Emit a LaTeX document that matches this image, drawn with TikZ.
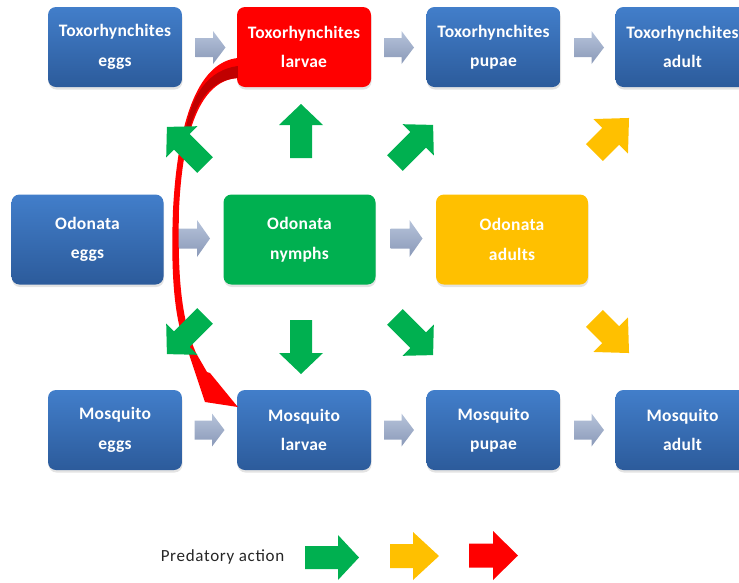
\documentclass[tikz,border=0pt]{standalone}
\usepackage{fontspec}
\setmainfont{Carlito}
\newfontfamily\boxfont[LetterSpace=1.5]{Carlito}
\newfontfamily\legfont[LetterSpace=4]{Carlito}
\usetikzlibrary{shadows,calc}
\definecolor{bluetop}{HTML}{427ECA}
\definecolor{bluebot}{HTML}{2C5B9B}
\definecolor{pgreen}{HTML}{00B050}
\definecolor{pyellow}{HTML}{FFC000}
\definecolor{pred}{HTML}{FF0000}
\definecolor{greytop}{HTML}{B6C3DA}
\definecolor{greybot}{HTML}{8A99B8}
\definecolor{darkred}{HTML}{C00000}
% block arrow: x, y, angle, length, shaft half-width, head half-width, head length, style
\newcommand{\barrow}[8]{\path[#8, shift={(#1,#2)}, rotate=#3] (-#4/2,-#5) -- (#4/2-#7,-#5) -- (#4/2-#7,-#6) -- (#4/2,0) -- (#4/2-#7,#6) -- (#4/2-#7,#5) -- (-#4/2,#5) -- cycle;}
\tikzset{
  stage/.style={rounded corners=8pt, minimum height=80pt, text=white, align=center,
    font=\boxfont\fontsize{17.5}{29.5}\selectfont\bfseries,
    drop shadow={shadow xshift=0.5pt, shadow yshift=-2.5pt, opacity=0.22}},
  bluebox/.style={stage, minimum width=134pt, top color=bluetop, bottom color=bluebot},
  odobox/.style={stage, minimum width=152pt, minimum height=90pt},
  greyarrow/.style={top color=greytop, bottom color=greybot},
  greenarrow/.style={fill=pgreen},
  yellowarrow/.style={fill=pyellow},
  redarrow/.style={fill=pred},
}
\begin{document}
\begin{tikzpicture}[x=1pt,y=-1pt]
\useasboundingbox (0,0) rectangle (739,582);
% row 1: Toxorhynchites
\node[bluebox] (te) at (115,47) {Toxorhynchites\\eggs};
\node[stage, minimum width=134pt, fill=pred] (tl) at (304,47) {Toxorhynchites\\larvae};
\node[bluebox] (tp) at (493.5,47) {Toxorhynchites\\pupae};
\node[bluebox] (ta) at (682.5,47) {Toxorhynchites\\adult};
% row 2: Odonata
\node[odobox, top color=bluetop, bottom color=bluebot] (oe) at (87.5,239.5) {Odonata\\eggs};
\node[odobox, fill=pgreen] (on) at (299.5,239.5) {Odonata\\nymphs};
\node[odobox, fill=pyellow] (oa) at (512,239.5) {Odonata\\adults};
% row 3: Mosquito
\node[bluebox] (me) at (115,430) {Mosquito\\eggs};
\node[bluebox] (ml) at (304,430) {Mosquito\\larvae};
\node[bluebox] (mp) at (493.5,430) {Mosquito\\pupae};
\node[bluebox] (ma) at (682.5,430) {Mosquito\\adult};
% grey development arrows
\barrow{210.5}{47.5}{0}{30}{9.5}{16.5}{12.5}{greyarrow}
\barrow{399}{47.5}{0}{30}{9.5}{16.5}{12.5}{greyarrow}
\barrow{589}{47.5}{0}{30}{9.5}{16.5}{12.5}{greyarrow}
\barrow{194}{238.5}{0}{32}{10}{18.5}{13}{greyarrow}
\barrow{406.5}{238.5}{0}{32}{10}{18.5}{13}{greyarrow}
\barrow{209.5}{430}{0}{30}{9.5}{16.5}{12.5}{greyarrow}
\barrow{399}{430}{0}{30}{9.5}{16.5}{12.5}{greyarrow}
\barrow{589}{430}{0}{30}{9.5}{16.5}{12.5}{greyarrow}
% red predation arc (Toxorhynchites larvae -> Mosquito larvae)
\coordinate (rs1) at ($(tl.west)+(1,11)$);
\coordinate (rs2) at ($(tl.west)+(1,31)$);
\coordinate (rtip) at ($(ml.west)+(1,-23)$);
\fill[pred] (rs1) .. controls (200,62) and (178,115) .. (173,210)
   .. controls (170,290) and (177,330) .. (189,354)
   -- (205,402) -- (rtip) -- (210,373) -- (207,372) -- (196,353)
   .. controls (184,325) and (177,290) .. (179,210)
   .. controls (183,120) and (205,80) .. (rs2) -- cycle;
\fill[darkred] ($(rs1)+(0,8)$) .. controls (208,70) and (192,95) .. (186,128)
   -- (190,128) .. controls (198,98) and (212,80) .. (rs2) -- cycle;
% green predation arrows (Odonata nymphs)
\barrow{301}{131}{90}{54}{11}{22}{21}{greenarrow}
\barrow{301}{347}{-90}{54}{11}{22}{21}{greenarrow}
\barrow{186}{146}{135}{54}{11}{22}{21}{greenarrow}
\barrow{414}{144}{45}{54}{11}{22}{21}{greenarrow}
\barrow{186}{335}{225}{54}{11}{22}{21}{greenarrow}
\barrow{414}{336}{-45}{54}{11}{22}{21}{greenarrow}
% yellow predation arrows (Odonata adults)
\barrow{611.7}{135.3}{45}{49}{12}{24.5}{26}{yellowarrow}
\barrow{611.7}{335.7}{-45}{49}{12}{24.5}{26}{yellowarrow}
% legend
\node[font=\legfont\fontsize{17}{20}\selectfont, text=black!85] (leg) at (222.5,557) {Predatory action};
\barrow{332}{557.5}{0}{54}{11.5}{22.5}{21}{greenarrow}
\barrow{414.5}{556}{0}{49}{12}{24}{26}{yellowarrow}
\barrow{493.5}{555.5}{0}{49}{12}{24.5}{25}{redarrow}
\end{tikzpicture}
\end{document}
